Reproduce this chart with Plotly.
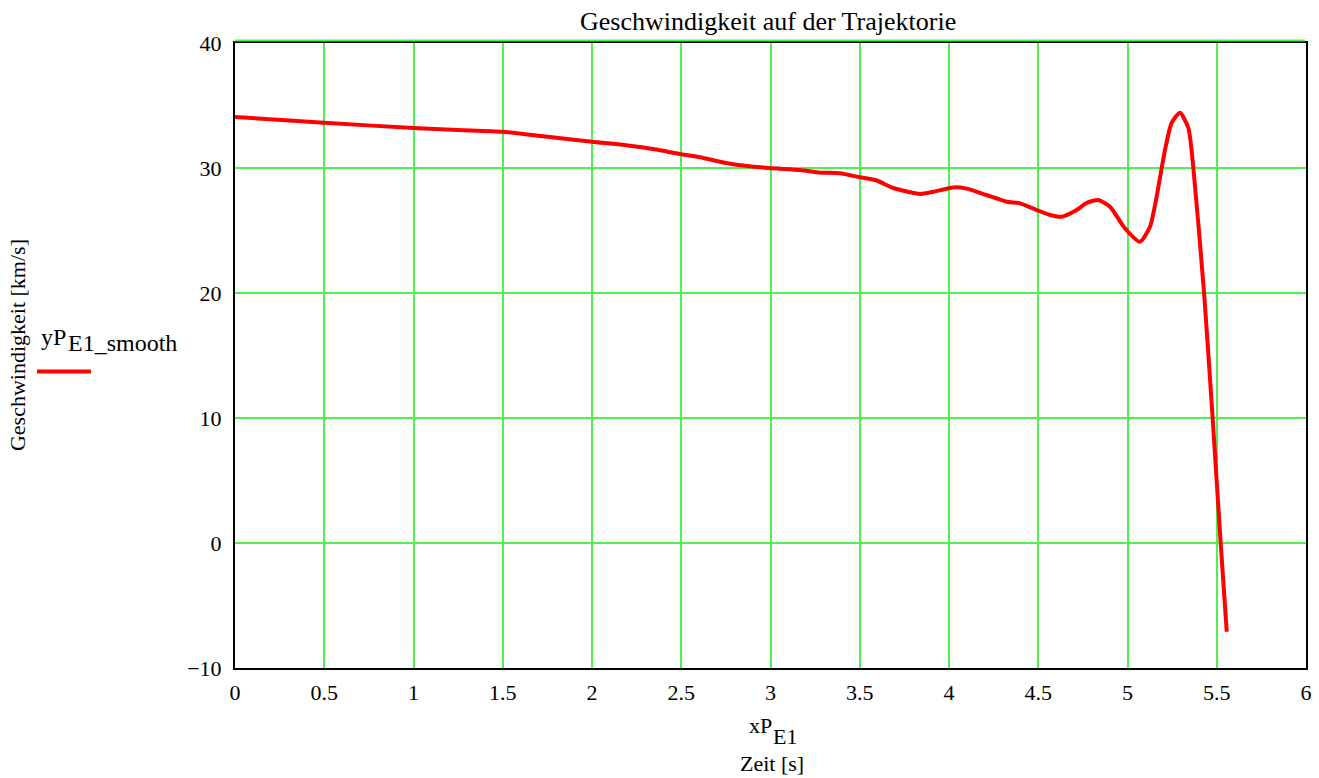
import plotly.graph_objects as go

# Zeit [s]
x_vals = [0.0, 0.5, 1.0, 1.25, 1.5, 1.75, 2.0, 2.2, 2.35, 2.5, 2.605, 2.79, 2.99, 3.165,
          3.277, 3.389, 3.5, 3.595, 3.688, 3.838, 3.912, 4.024, 4.1, 4.21, 4.323, 4.398,
          4.49, 4.566, 4.631, 4.715, 4.77, 4.837, 4.902, 4.986, 5.07, 5.126, 5.163, 5.21,
          5.247, 5.294, 5.341, 5.369, 5.429, 5.477, 5.522, 5.556]
# Geschwindigkeit [km/s]
y_vals = [34.08, 33.62, 33.2, 33.04, 32.9, 32.5, 32.1, 31.8, 31.5, 31.1, 30.86, 30.3, 30.0, 29.84,
          29.63, 29.58, 29.26, 29.0, 28.4, 27.92, 28.1, 28.45, 28.35, 27.84, 27.3, 27.17,
          26.64, 26.24, 26.1, 26.64, 27.2, 27.44, 26.9, 25.17, 24.1, 25.3, 27.7, 31.44,
          33.6, 34.42, 33.2, 30.0, 20.0, 10.0, 0.0, -7.1]

x_ticks = [0, 0.5, 1, 1.5, 2, 2.5, 3, 3.5, 4, 4.5, 5, 5.5, 6]
y_ticks = [-10, 0, 10, 20, 30, 40]

FONT = "Liberation Serif, Times New Roman, serif"
GRID = "#50f050"

fig = go.Figure()
fig.add_trace(go.Scatter(x=x_vals, y=y_vals, mode="lines",
                         line=dict(color="#ff0000", width=4, shape="spline", smoothing=0.6),
                         showlegend=False))

fig.update_layout(
    width=1319, height=778,
    margin=dict(l=235, r=13, t=43, b=110),
    paper_bgcolor="white", plot_bgcolor="white",
    font=dict(family=FONT, size=22, color="black"),
    xaxis=dict(range=[0, 6], tickvals=x_ticks, showgrid=True, gridcolor=GRID, gridwidth=1.5,
               zeroline=False, showline=True, mirror=True, linecolor="black", linewidth=2,
               automargin=False, ticks="", ticklabelstandoff=4, tickfont=dict(family=FONT, size=22)),
    yaxis=dict(range=[-10, 40], tickvals=y_ticks, showgrid=True, gridcolor=GRID, gridwidth=1.5,
               zeroline=False, showline=True, mirror=True, linecolor="black", linewidth=2,
               automargin=False, ticks="", ticklabelstandoff=7, tickfont=dict(family=FONT, size=22)),
)

# green line just above the top frame
fig.add_shape(type="line", xref="paper", yref="paper", ysizemode="pixel", yanchor=1,
              x0=0, x1=0.999, y0=2.5, y1=2.5, line=dict(color=GRID, width=2))

def txt(x, y, text, size, xanchor="left", angle=0):
    fig.add_annotation(xref="paper", yref="paper", x=x, y=y, xanchor=xanchor, yanchor="middle",
                       text=text, showarrow=False, textangle=angle,
                       font=dict(family=FONT, size=size, color="black"))

# title
txt(0.4977, 1.0336, "Geschwindigkeit auf der Trajektorie", 26, xanchor="center")
# y-axis title
txt(-0.2035, 0.5168, "Geschwindigkeit [km/s]", 22, xanchor="center", angle=-90)

# legend entry: text above the red line
txt(-0.1830, 0.5300, "yP", 24)
txt(-0.1580, 0.5200, "E1_smooth", 24)
fig.add_shape(type="line", xref="paper", yref="paper", x0=-0.1849, x1=-0.1345, y0=0.4744, y1=0.4744,
              line=dict(color="#ff0000", width=4))

# x-axis title lines
txt(0.4785, -0.0923, "xP", 22)
txt(0.5000, -0.1100, "E1", 22)
txt(0.5011, -0.1526, "Zeit [s]", 22, xanchor="center")

fig.write_html("out.html", config={"displayModeBar": False},
               post_script="document.body.style.margin='0';document.body.style.overflow='hidden';")
